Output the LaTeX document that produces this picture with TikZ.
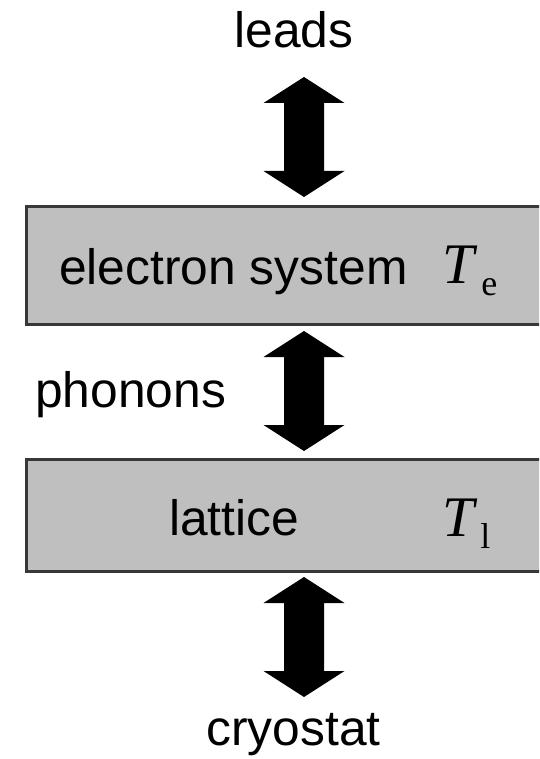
\documentclass[tikz,border=0pt]{standalone}
\usepackage{fontspec}
\setmainfont{Liberation Sans}
\newfontfamily\tms{Liberation Serif}
\begin{document}
\begin{tikzpicture}[x=0.75pt,y=-0.75pt,
  lbl/.style={inner sep=0pt,font=\fontsize{37.3}{44}\selectfont},
  sysbox/.style={draw=black!78,line width=1.9pt,fill=black!25,inner sep=0pt,anchor=north west,minimum width=540*0.75pt},
  tsym/.style={inner sep=0pt,font=\tms\itshape\fontsize{43}{48}\selectfont},
  tsub/.style={inner sep=0pt,font=\tms\fontsize{27}{32}\selectfont},
  pics/dblarrow/.style={code={
    \fill[black] (0,0) -- (-40.5,26) -- (-20,26) -- (-20,94) -- (-40.5,94) -- (0,120)
      -- (40.5,94) -- (20,94) -- (20,26) -- (40.5,26) -- cycle;}}
]
\useasboundingbox (0,0) rectangle (539,759);
\begin{scope}
\clip (0,0) rectangle (539,759);
\node[sysbox,minimum height=118*0.75pt] (el) at (25,205) {};
\node[sysbox,minimum height=112*0.75pt] (lat) at (25,458) {};
\end{scope}
\node[lbl,anchor=base] (leads) at (294,48) {leads};
\node[lbl,anchor=base west] (phon) at (35,407) {phonons};
\node[lbl,anchor=base] (cryo) at (293.5,745) {cryostat};
\node[lbl,anchor=base west] (eltxt) at (59,284) {electron system};
\node[lbl,anchor=base] (lattxt) at (234,535) {lattice};
\node[tsym,anchor=base west] (te) at (442,283) {T};
\node[tsub,anchor=base west] (tesub) at (481,295) {e};
\node[tsym,anchor=base west] (tl) at (442,536) {T};
\node[tsub,anchor=base west] (tlsub) at (480,548) {l};
\coordinate (a1) at (304,77);
\coordinate (a2) at (304,331);
\coordinate (a3) at (304,577);
\pic at (a1) {dblarrow};
\pic at (a2) {dblarrow};
\pic at (a3) {dblarrow};
\end{tikzpicture}
\end{document}
